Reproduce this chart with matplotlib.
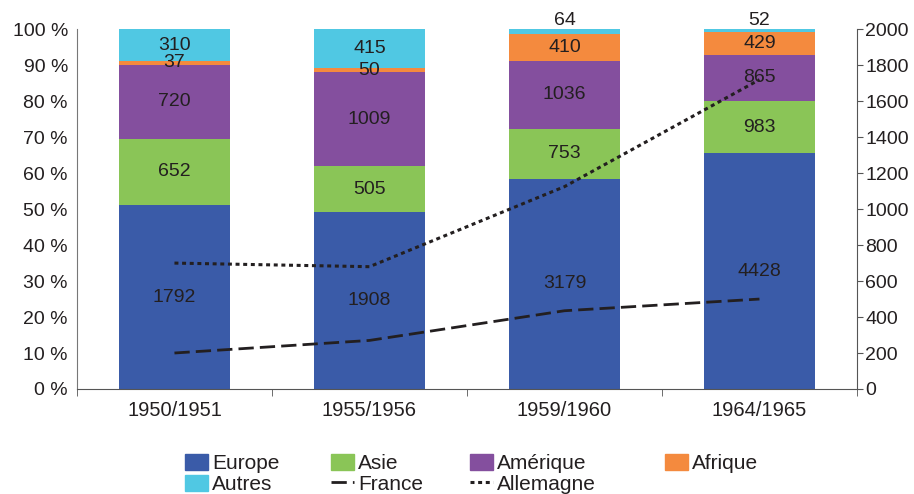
import matplotlib
matplotlib.use("Agg")
import matplotlib.pyplot as plt
import numpy as np
from matplotlib.patches import Patch
from matplotlib.lines import Line2D

plt.rcParams['font.family'] = ['Liberation Sans', 'DejaVu Sans']

categories = ["1950/1951", "1955/1956", "1959/1960", "1964/1965"]
europe = [1792, 1908, 3179, 4428]
asie = [652, 505, 753, 983]
amerique = [720, 1009, 1036, 865]
afrique = [37, 50, 410, 429]
autres = [310, 415, 64, 52]
france = [200, 270, 435, 500]
allemagne = [700, 680, 1125, 1720]

series = [("Europe", europe, "#3A5BA8"),
          ("Asie", asie, "#8AC557"),
          ("Amérique", amerique, "#844F9E"),
          ("Afrique", afrique, "#F48A3E"),
          ("Autres", autres, "#50C8E3")]

txt = "#231F20"
fig = plt.figure(figsize=(9.14, 4.94), dpi=100)
ax = fig.add_axes([0.0842, 0.2126, 0.8534, 0.7281])
x = np.arange(len(categories))
totals = np.sum([s[1] for s in series], axis=0)
bottom = np.zeros(len(categories))
for si, (name, vals, col) in enumerate(series):
    pct = np.array(vals) / totals * 100
    ax.bar(x, pct, 0.565, bottom=bottom, color=col, zorder=2)
    for xi, p, b, v in zip(x, pct, bottom, vals):
        yy = b + p / 2
        if si == len(series) - 1 and p < 1.5:
            yy = 102.4
        ax.text(xi, yy, str(v), ha="center", va="center", fontsize=14,
                color=txt, zorder=5, clip_on=False)
    bottom += pct

ax.set_xlim(-0.5, len(categories) - 0.5)
ax.set_ylim(0, 100)
ax.set_yticks(np.arange(0, 101, 10))
ax.set_yticklabels([f"{v} %" for v in range(0, 101, 10)], fontsize=14, color=txt)
ax.tick_params(axis="y", length=0, pad=6.5)
ax.set_xticks(x)
ax.set_xticklabels(categories, fontsize=14.5, color=txt)
ax.set_xticks(np.arange(-0.5, len(categories), 1), minor=True)
ax.tick_params(axis="x", which="major", length=0, pad=9)
ax.tick_params(axis="x", which="minor", length=5, color="#555555")
for s in ["top", "right"]:
    ax.spines[s].set_visible(False)
ax.spines["left"].set_color("#777777")
ax.spines["bottom"].set_color("#555555")

ax2 = ax.twinx()
ax2.set_ylim(0, 2000)
ax2.set_yticks(np.arange(0, 2001, 200))
ax2.tick_params(axis="y", labelsize=14, labelcolor=txt, length=4, color="#555555", pad=2)
for s in ["top", "left", "bottom"]:
    ax2.spines[s].set_visible(False)
ax2.spines["right"].set_color("#555555")
fr_style = dict(color="#231F20", lw=2.0, dashes=(5.5, 2.2))
al_style = dict(color="#231F20", lw=2.2, dashes=(1.3, 1.2))
ax2.plot(x, france, zorder=4, **fr_style)
ax2.plot(x, allemagne, zorder=4, **al_style)

cols = [
    ([Patch(color=series[0][2]), Patch(color=series[4][2])], ["Europe", "Autres"], 185),
    ([Patch(color=series[1][2]), Line2D([], [], **fr_style)], ["Asie", "France"], 331),
    ([Patch(color=series[2][2]), Line2D([], [], **al_style)], ["Amérique", "Allemagne"], 470),
    ([Patch(color=series[3][2])], ["Afrique"], 665),
]
for hs, ls, px in cols:
    fig.legend(hs, ls, loc="upper left", bbox_to_anchor=(px / 914, 1 - 454 / 494),
               frameon=False, fontsize=15, handlelength=1.1, handleheight=0.8,
               labelspacing=0.08, handletextpad=0.2, borderpad=0, borderaxespad=0,
               labelcolor=txt)

fig.savefig("out.png", dpi=100)
